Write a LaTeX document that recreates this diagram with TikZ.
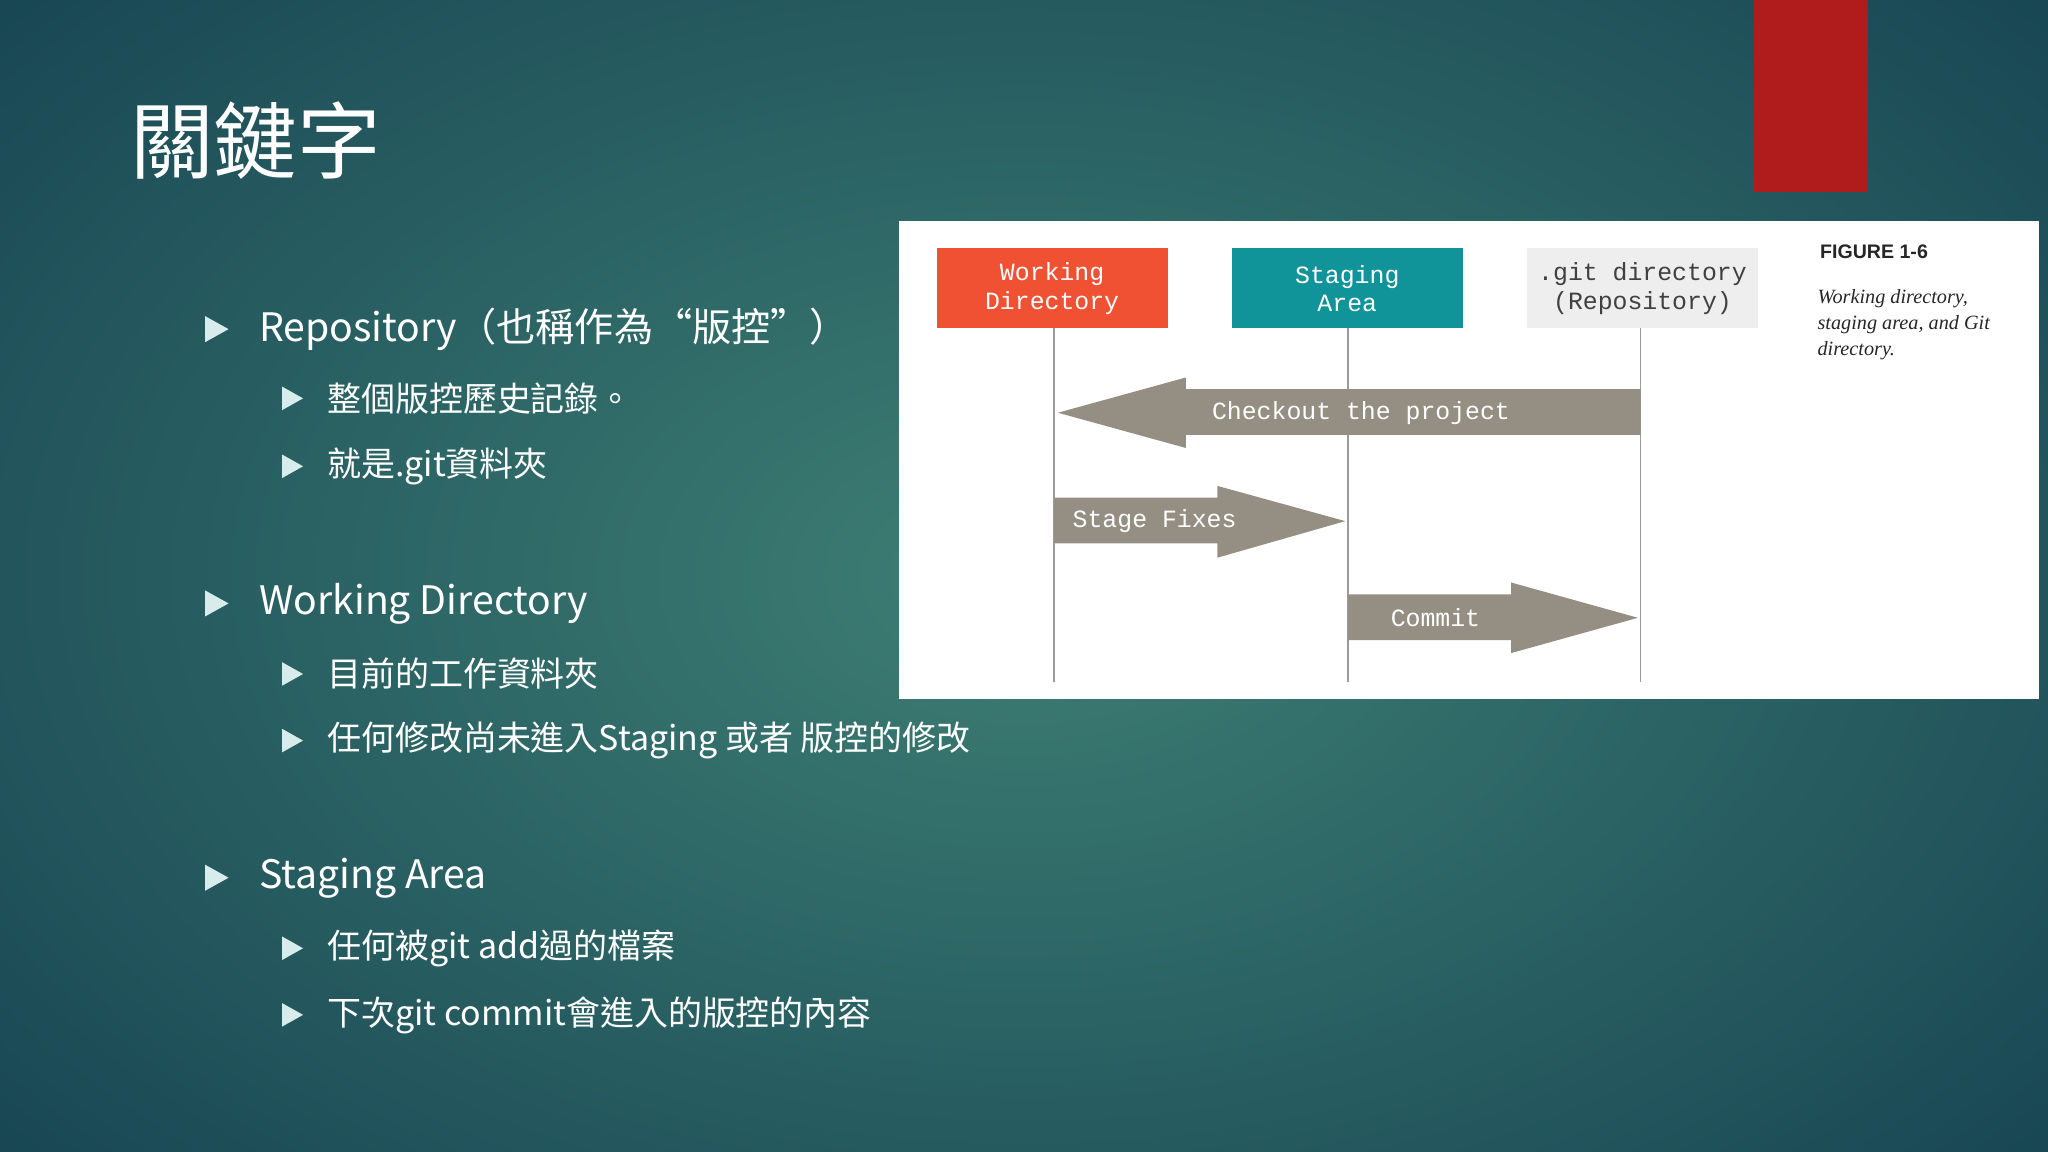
\documentclass[tikz,border=0pt]{standalone}
\usepackage{fontspec}
\setmainfont{Noto Sans CJK TC}
\newfontfamily\monof{Liberation Mono}
\newfontfamily\capf{Liberation Serif}
\newfontfamily\figf{Liberation Sans}
\usetikzlibrary{shapes.geometric}
\definecolor{bgin}{HTML}{3E7F74}
\definecolor{bgout}{HTML}{174553}
\definecolor{redbar}{HTML}{B01C1C}
\definecolor{wdorange}{HTML}{F05133}
\definecolor{stteal}{HTML}{11939A}
\definecolor{gitgray}{HTML}{EEEEEE}
\definecolor{arrowc}{HTML}{958F83}
\definecolor{linec}{HTML}{9A9A9A}
\definecolor{bul}{HTML}{D8ECEC}
\begin{document}
\begin{tikzpicture}[x=1pt,y=-1pt,
  lone/.style={anchor=west,text=white,font=\fontsize{30}{34}\selectfont},
  ltwo/.style={anchor=west,text=white,font=\fontsize{26}{30}\selectfont},
  tri/.style={fill=bul},
  lab/.style={align=center,text=white,font=\monof\fontsize{19}{22}\selectfont},
  arr/.style={fill=arrowc},
  vline/.style={draw=linec,line width=1.2pt}]
\useasboundingbox (0,0) rectangle (1568,882);
\shade[inner color=bgin,outer color=bgout] (-300,-250) rectangle (1868,1132);
\fill[redbar] (1343,0) rectangle (1430,147);
\node[anchor=west,text=white,font=\fontsize{64}{70}\selectfont] (title) at (96,108) {關鍵字};
% bullets
\foreach \y/\t [count=\i] in {252/{Repository（也稱作為“版控”）},462/{Working Directory},672/{Staging Area}}{
  \fill[tri] (157,\y-10) -- (175,\y) -- (157,\y+10) -- cycle;
  \node[lone] (b\i) at (195,\y) {\t};}
\foreach \y/\t [count=\i] in {305/{整個版控歷史記錄。},357/{就是.git資料夾},516/{目前的工作資料夾},567/{任何修改尚未進入Staging 或者 版控的修改},726/{任何被git add過的檔案},777/{下次git commit會進入的版控的內容}}{
  \fill[tri] (216,\y-9) -- (232,\y) -- (216,\y+9) -- cycle;
  \node[ltwo] (s\i) at (247,\y) {\t};}
% figure
\fill[white] (688,169) rectangle (1561,535);
\draw[vline] (807,251) -- (807,522);
\draw[vline] (1032,251) -- (1032,522);
\draw[vline] (1256,251) -- (1256,522);
\fill[wdorange] (717,190) rectangle (894,251);
\fill[stteal] (943,190) rectangle (1120,251);
\fill[gitgray] (1169,190) rectangle (1346,251);
\node[lab] (wd) at (805.5,221) {Working\\Directory};
\node[lab] (sa) at (1031.5,221) {Staging\\Area};
\node[lab,text=black!75] (gd) at (1257.5,221) {.git directory\\(Repository)};
\fill[arr] (1256,298) -- (908,298) -- (908,289) -- (810,316) -- (908,343) -- (908,333) -- (1256,333) -- cycle;
\node[lab] (co) at (1042,316) {Checkout the project};
\fill[arr] (807,381) -- (932,381) -- (932,372) -- (1030,399) -- (932,427) -- (932,416) -- (807,416) -- cycle;
\node[lab] (sf) at (884,399) {Stage Fixes};
\fill[arr] (1032,455) -- (1157,455) -- (1157,446) -- (1254,473) -- (1157,500) -- (1157,490) -- (1032,490) -- cycle;
\node[lab] (cm) at (1099,473) {Commit};
\node[anchor=west,font=\figf\bfseries\fontsize{15}{17}\selectfont,text=black!85] (fig) at (1390,193) {FIGURE 1-6};
\node[anchor=north west,align=left,font=\capf\itshape\fontsize{15.5}{20}\selectfont,text=black!85] (cap) at (1388,218) {Working directory,\\staging area, and Git\\directory.};
\end{tikzpicture}
\end{document}
